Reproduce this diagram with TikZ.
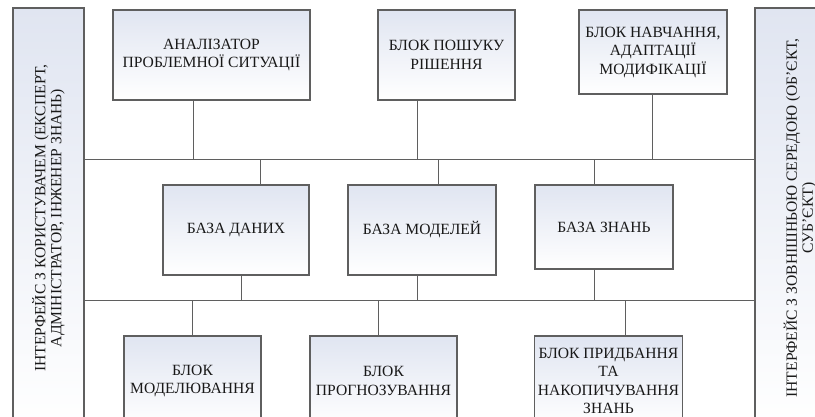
\documentclass[tikz,border=0pt]{standalone}
\usepackage{fontspec}
\setmainfont{Liberation Serif}
\usepackage{tikz}
\definecolor{boxtop}{RGB}{224,229,241}
\definecolor{edge}{RGB}{95,95,95}
\definecolor{ink}{RGB}{25,25,25}
\tikzstyle{block} = [
    rectangle,
    minimum width=3cm, minimum height=90pt,
    align=center, text=ink,
    font=\fontsize{15.6}{18.5}\selectfont,
    draw=edge, line width=1.1pt,
    top color=boxtop, bottom color=white]
\tikzstyle{iface} = [
    block, rotate=90,
    minimum width=420pt,
    font=\fontsize{15.6}{16}\selectfont]
\tikzstyle{link} = [draw=edge, line width=1pt]
\begin{document}
\begin{tikzpicture}[x=1pt, y=-1pt]
        \useasboundingbox (0,0) rectangle (815,417);

        \node (ui_user) [iface, minimum height=71pt] at (48.5,218) {ІНТЕРФЕЙС З КОРИСТУВАЧЕМ (ЕКСПЕРТ,\\ АДМІНІСТРАТОР, ІНЖЕНЕР ЗНАНЬ)};
        \node (ui_env) [iface, minimum height=90pt] at (800,218) {ІНТЕРФЕЙС З ЗОВНІШНЬОЮ СЕРЕДОЮ (ОБ'ЄКТ,\\ СУБ'ЄКТ)};

        \node (an_situation) [block, minimum width=197pt] at (211.5,55) {АНАЛІЗАТОР\\ ПРОБЛЕМНОЇ СИТУАЦІЇ};
        \node (blk_search) [block, minimum width=137pt] at (446.5,55) {БЛОК ПОШУКУ\\ РІШЕННЯ};
        \node (blk_learning) [block, minimum width=148pt, minimum height=84pt] at (653,52) {БЛОК НАВЧАННЯ,\\ АДАПТАЦІЇ\\ МОДИФІКАЦІЇ};

        \node (db_data) [block, minimum width=146pt] at (236,230) {БАЗА ДАНИХ};
        \node (db_models) [block, minimum width=148pt] at (422,230) {БАЗА МОДЕЛЕЙ};
        \node (db_knowledge) [block, minimum width=138pt, minimum height=84pt] at (604,227) {БАЗА ЗНАНЬ};

        \node (blk_modeling) [block, minimum width=137pt] at (192.5,381) {БЛОК\\ МОДЕЛЮВАННЯ};
        \node (blk_forecast) [block, minimum width=147pt] at (383.5,381) {БЛОК\\ ПРОГНОЗУВАННЯ};
        \node (blk_acquire) [block, minimum width=147pt] at (608.5,381) {БЛОК ПРИДБАННЯ\\ ТА\\ НАКОПИЧУВАННЯ\\ ЗНАНЬ};

        \coordinate (bus_top) at (0,160);
        \coordinate (bus_low) at (0,300);
        \draw [link] (ui_user.south |- bus_top) -- (ui_env.north |- bus_top);
        \draw [link] (ui_user.south |- bus_low) -- (ui_env.north |- bus_low);

        \coordinate (tap_an) at (193,160);
        \coordinate (tap_search) at (417,160);
        \coordinate (tap_learning) at (652,160);
        \coordinate (tap_data_up) at (260,160);
        \coordinate (tap_models_up) at (438,160);
        \coordinate (tap_knowledge_up) at (594,160);
        \coordinate (tap_data_low) at (241,300);
        \coordinate (tap_models_low) at (417,300);
        \coordinate (tap_knowledge_low) at (594,300);
        \coordinate (tap_modeling) at (192,300);
        \coordinate (tap_forecast) at (378,300);
        \coordinate (tap_acquire) at (625,300);

        \draw [link] (an_situation.south -| tap_an) -- (tap_an);
        \draw [link] (blk_search.south -| tap_search) -- (tap_search);
        \draw [link] (blk_learning.south -| tap_learning) -- (tap_learning);

        \draw [link] (db_data.north -| tap_data_up) -- (tap_data_up);
        \draw [link] (db_models.north -| tap_models_up) -- (tap_models_up);
        \draw [link] (db_knowledge.north -| tap_knowledge_up) -- (tap_knowledge_up);
        \draw [link] (db_data.south -| tap_data_low) -- (tap_data_low);
        \draw [link] (db_models.south -| tap_models_low) -- (tap_models_low);
        \draw [link] (db_knowledge.south -| tap_knowledge_low) -- (tap_knowledge_low);

        \draw [link] (blk_modeling.north -| tap_modeling) -- (tap_modeling);
        \draw [link] (blk_forecast.north -| tap_forecast) -- (tap_forecast);
        \draw [link] (blk_acquire.north -| tap_acquire) -- (tap_acquire);
    \end{tikzpicture}
\end{document}
